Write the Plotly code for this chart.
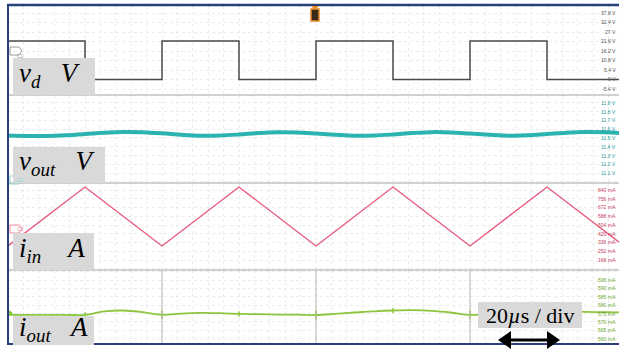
import numpy as np
import plotly.graph_objects as go
from plotly.subplots import make_subplots

W, H = 619, 354

# ---- waveform data (time in microseconds) ----
vd_t = [0, 20, 40, 60, 80, 100, 120, 140, 160]
vd_v = [21.9, 0.0, 21.9, 0.0, 21.9, 0.0, 21.9, 0.0, 0.0]

vout_t = [0, 5, 10, 15, 20, 25, 30, 35, 40, 45, 50, 55, 60, 65, 70, 75, 80,
          85, 90, 95, 100, 105, 110, 115, 120, 125, 130, 135, 140, 145, 150, 155, 160]
vout_v = [11.528, 11.524, 11.524, 11.532, 11.545, 11.560, 11.568, 11.565, 11.553,
          11.537, 11.526, 11.528, 11.540, 11.556, 11.566, 11.563, 11.551, 11.537,
          11.526, 11.528, 11.540, 11.556, 11.567, 11.563, 11.550, 11.537, 11.527,
          11.530, 11.545, 11.561, 11.569, 11.565, 11.553]

iin_t = [0, 20, 40, 60, 80, 100, 120, 140, 160]
iin_ma = [303, 868, 303, 868, 303, 868, 303, 868, 303]

iout_t = vout_t
iout_ma = [574.2, 574.2, 574.2, 574.2, 574.2, 576.3, 576.8, 575.8, 574.2, 575.0,
           575.4, 575.2, 574.8, 574.6, 574.4, 574.3, 574.1, 574.8, 575.6, 576.3,
           576.8, 577.0, 576.6, 575.6, 574.2, 574.8, 575.6, 576.3, 576.6, 576.4,
           576.0, 575.8, 575.6]
iout_spike_t = [20, 40, 60, 80, 100, 120, 140]
iout_spike_amp = [1.5, 2.6, 1.5, 2.6, 1.5, 2.6, 1.5]

# scale labels on the right edge of each channel
vd_labels = ["37.8 V", "32.4 V", "27 V", "21.6 V", "16.2 V", "10.8 V", "5.4 V", "0 V", "-5.4 V"]
vd_label_vals = [37.8, 32.4, 27.0, 21.6, 16.2, 10.8, 5.4, 0.0, -5.4]
vout_labels = ["11.9 V", "11.8 V", "11.7 V", "11.6 V", "11.5 V", "11.4 V", "11.3 V", "11.2 V", "11.1 V"]
vout_label_vals = [11.9, 11.8, 11.7, 11.6, 11.5, 11.4, 11.3, 11.2, 11.1]
iin_labels = ["840 mA", "756 mA", "672 mA", "588 mA", "504 mA", "420 mA", "336 mA", "252 mA", "168 mA"]
iin_label_vals = [840, 756, 672, 588, 504, 420, 336, 252, 168]
iout_labels = ["595 mA", "590 mA", "585 mA", "580 mA", "575 mA", "570 mA", "565 mA", "560 mA", "555 mA"]
iout_label_vals = [595, 590, 585, 580, 575, 570, 565, 560, 555]

C_VD, C_VOUT, C_IIN, C_IOUT = "#4a4a4a", "#2bb3b1", "#e8557a", "#8cc63f"
NAVY = "#27407a"
GRID = "#ececec"


def px(x):
    return x / W


def py(y):
    return 1 - y / H


panels = [(6, 95), (95, 183), (183, 270), (270, 344)]
yranges = [[-8.81, 41.78], [10.986, 11.991], [72, 907.2], [556.8, 601.0]]
ydticks = [5.4, 0.1, 84, 5]
t_max = (W - 8) / 3.85

fig = make_subplots(rows=4, cols=1, shared_xaxes=True, vertical_spacing=0)

fig.add_trace(go.Scatter(x=vd_t, y=vd_v, mode="lines", line=dict(color=C_VD, width=1.5, shape="hv"),
                         hoverinfo="skip"), row=1, col=1)
fig.add_trace(go.Scatter(x=vout_t, y=vout_v, mode="lines",
                         line=dict(color=C_VOUT, width=4, shape="spline"), hoverinfo="skip"), row=2, col=1)
fig.add_trace(go.Scatter(x=iin_t, y=iin_ma, mode="lines", line=dict(color=C_IIN, width=1.3),
                         hoverinfo="skip"), row=3, col=1)
fig.add_trace(go.Scatter(x=iout_t, y=iout_ma, mode="lines",
                         line=dict(color=C_IOUT, width=1.8, shape="spline"), hoverinfo="skip"), row=4, col=1)

# switching spikes on the output current
base = np.interp(iout_spike_t, iout_t, iout_ma)
sx, sy = [], []
for t, b, a in zip(iout_spike_t, base, iout_spike_amp):
    sx += [t, t, None]
    sy += [b - a, b + a, None]
fig.add_trace(go.Scatter(x=sx, y=sy, mode="lines", line=dict(color=C_IOUT, width=1.5),
                         hoverinfo="skip"), row=4, col=1)

for i, ((top, bot), yr, dt) in enumerate(zip(panels, yranges, ydticks), start=1):
    fig.update_xaxes(domain=[px(8), 1], range=[0, t_max], showticklabels=False, ticks="",
                     showgrid=True, gridcolor=GRID, griddash="dot", gridwidth=1,
                     dtick=4, tick0=0, zeroline=False, showline=False, row=i, col=1)
    fig.update_yaxes(domain=[py(bot), py(top)], range=yr, showticklabels=False, ticks="",
                     showgrid=True, gridcolor=GRID, griddash="dot", gridwidth=1,
                     dtick=dt, tick0=0, zeroline=False, showline=False, row=i, col=1)

shapes = []
annotations = []

# channel separators
for y in (95, 183, 270):
    shapes.append(dict(type="line", xref="paper", yref="paper", x0=px(8), x1=1, y0=py(y), y1=py(y),
                       line=dict(color="#a4a4a4", width=1.2)))

# cursor lines through the output-current channel
for t in (40, 80, 120):
    shapes.append(dict(type="line", xref="x4", yref="paper", x0=t, x1=t, y0=py(271), y1=py(344),
                       line=dict(color="#b2b8ae", width=1)))

# frame
shapes += [
    dict(type="line", xref="paper", yref="paper", x0=px(8), x1=px(8), y0=py(4), y1=py(345),
         line=dict(color=NAVY, width=2)),
    dict(type="line", xref="paper", yref="paper", x0=px(7), x1=1, y0=py(5), y1=py(5),
         line=dict(color=NAVY, width=2.5)),
    dict(type="line", xref="paper", yref="paper", x0=px(7), x1=1, y0=py(344), y1=py(344),
         line=dict(color=NAVY, width=2)),
]

# trigger marker
shapes.append(dict(type="rect", xref="paper", yref="paper", x0=px(311), x1=px(319), y0=py(21), y1=py(9),
                   fillcolor="#3a2a1a", line=dict(color="#e8892a", width=1.5)))
shapes.append(dict(type="path", xref="paper", yref="paper",
                   path=f"M {px(311)} {py(6)} L {px(319)} {py(6)} L {px(315)} {py(10)} Z",
                   fillcolor="#e8892a", line=dict(width=0)))

# channel badges at the left edge
for y0, col, txt in ((47, "#9a9a9a", "C1"), (176, "#8fd6d4", "C2"), (225, "#f08aa2", "C3")):
    path = (f"M {px(10)} {py(y0)} L {px(19)} {py(y0)} L {px(22)} {py(y0 + 4)} "
            f"L {px(19)} {py(y0 + 8)} L {px(10)} {py(y0 + 8)} Z")
    shapes.append(dict(type="path", xref="paper", yref="paper", path=path,
                       fillcolor="rgba(255,255,255,0)", line=dict(color=col, width=1)))
    annotations.append(dict(xref="paper", yref="paper", x=px(15), y=py(y0 + 4), text=txt,
                            showarrow=False, font=dict(size=5, color=col, family="Liberation Sans")))
shapes.append(dict(type="path", xref="paper", yref="paper",
                   path=f"M {px(9)} {py(310)} L {px(13)} {py(313)} L {px(9)} {py(316)} Z",
                   fillcolor=C_IOUT, line=dict(width=0)))

# channel name boxes
boxes = [
    ((13, 95, 58, 95), "<i>v</i><sub><i>d</i></sub>&#160;&#160;&#160;<i>V</i>"),
    ((13, 105, 147, 183), "<i>v</i><sub><i>out</i></sub>&#160;&#160;&#160;<i>V</i>"),
    ((13, 94, 233, 270), "<i>i</i><sub><i>in</i></sub>&#160;&#160;&#160;&#160;<i>A</i>"),
    ((13, 94, 316, 345), "<i>i</i><sub><i>out</i></sub>&#160;&#160;&#160;<i>A</i>"),
]
for (x0, x1, y0, y1), txt in boxes:
    shapes.append(dict(type="rect", xref="paper", yref="paper", x0=px(x0), x1=px(x1), y0=py(y1), y1=py(y0),
                       fillcolor="#d9d9d9", line=dict(width=0), layer="above"))
    annotations.append(dict(xref="paper", yref="paper", x=px(x0 + 4), y=py((y0 + y1) / 2 - 2),
                            xanchor="left", yanchor="middle", text=txt, showarrow=False,
                            font=dict(size=27, color="black", family="Liberation Serif")))

# time-base box and arrow
shapes.append(dict(type="rect", xref="paper", yref="paper", x0=px(478), x1=px(582), y0=py(328), y1=py(302),
                   fillcolor="#d9d9d9", line=dict(width=0), layer="above"))
annotations.append(dict(xref="paper", yref="paper", x=px(530), y=py(315), text="20<i>\u00b5</i>s / div",
                        showarrow=False, xanchor="center", yanchor="middle",
                        font=dict(size=22, color="black", family="Liberation Serif")))
shapes.append(dict(type="line", xref="paper", yref="paper", x0=px(506), x1=px(552), y0=py(340), y1=py(340),
                   line=dict(color="black", width=3)))
shapes.append(dict(type="path", xref="paper", yref="paper",
                   path=f"M {px(498)} {py(340)} L {px(511)} {py(331)} L {px(511)} {py(349)} Z",
                   fillcolor="black", line=dict(width=0)))
shapes.append(dict(type="path", xref="paper", yref="paper",
                   path=f"M {px(560)} {py(340)} L {px(547)} {py(331)} L {px(547)} {py(349)} Z",
                   fillcolor="black", line=dict(width=0)))

# right-edge scale labels
for yref, labels, vals, col in (("y", vd_labels, vd_label_vals, "#555555"),
                                ("y2", vout_labels, vout_label_vals, "#1f9e9c"),
                                ("y3", iin_labels, iin_label_vals, "#c8405e"),
                                ("y4", iout_labels, iout_label_vals, "#6aa82a")):
    for lab, v in zip(labels, vals):
        annotations.append(dict(xref="paper", yref=yref, x=px(618), y=v, text=lab, xanchor="right",
                                yanchor="middle", showarrow=False,
                                font=dict(size=5, color=col, family="Liberation Sans")))

fig.update_layout(width=W, height=H, margin=dict(l=0, r=0, t=0, b=0), showlegend=False,
                  paper_bgcolor="white", plot_bgcolor="white", shapes=shapes, annotations=annotations)

fig.write_html("out.html")
